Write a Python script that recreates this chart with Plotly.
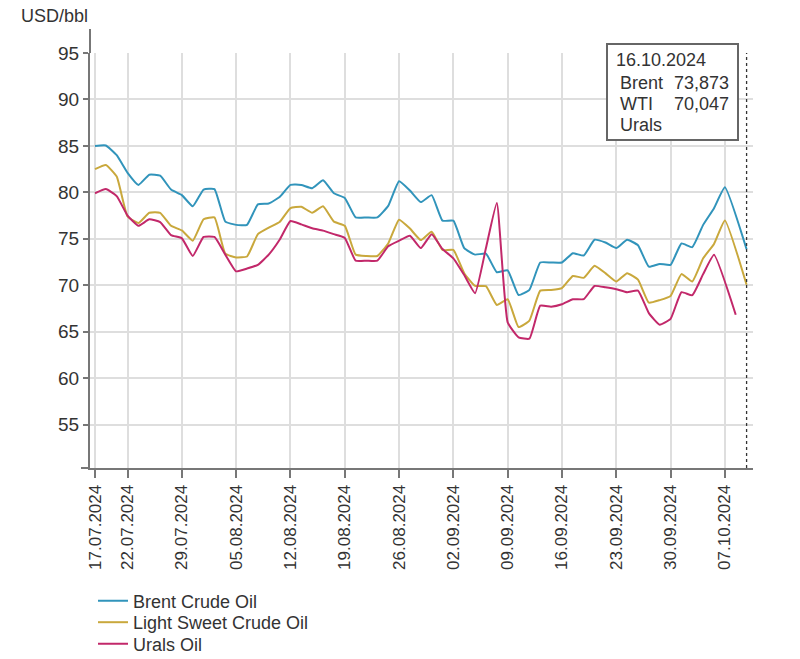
import plotly.graph_objects as go

# ---------------- data ----------------
dates = [
    "17.07.2024", "18.07.2024", "19.07.2024", "22.07.2024", "23.07.2024",
    "24.07.2024", "25.07.2024", "26.07.2024", "29.07.2024", "30.07.2024",
    "31.07.2024", "01.08.2024", "02.08.2024", "05.08.2024", "06.08.2024",
    "07.08.2024", "08.08.2024", "09.08.2024", "12.08.2024", "13.08.2024",
    "14.08.2024", "15.08.2024", "16.08.2024", "19.08.2024", "20.08.2024",
    "21.08.2024", "22.08.2024", "23.08.2024", "26.08.2024", "27.08.2024",
    "28.08.2024", "29.08.2024", "30.08.2024", "02.09.2024", "03.09.2024",
    "04.09.2024", "05.09.2024", "06.09.2024", "09.09.2024", "10.09.2024",
    "11.09.2024", "12.09.2024", "13.09.2024", "16.09.2024", "17.09.2024",
    "18.09.2024", "19.09.2024", "20.09.2024", "23.09.2024", "24.09.2024",
    "25.09.2024", "26.09.2024", "27.09.2024", "30.09.2024", "01.10.2024",
    "02.10.2024", "03.10.2024", "04.10.2024", "07.10.2024", "15.10.2024",
    "16.10.2024",
]

brent = [
    85.0, 85.05, 84.0, 82.1, 80.8, 81.9, 81.8, 80.3, 79.7, 78.5,
    80.3, 80.35, 76.85, 76.5, 76.5, 78.7, 78.8, 79.5, 80.8, 80.8,
    80.45, 81.3, 79.9, 79.4, 77.3, 77.3, 77.3, 78.55, 81.2, 80.2,
    78.95, 79.7, 76.95, 76.95, 74.0, 73.3, 73.4, 71.4, 71.6, 68.95,
    69.5, 72.45, 72.45, 72.45, 73.45, 73.2, 74.9, 74.6, 74.0, 74.9,
    74.3, 72.0, 72.3, 72.2, 74.5, 74.1, 76.5, 78.3, 80.55, None,
    73.873,
]

wti = [
    82.5, 82.95, 81.7, 77.4, 76.7, 77.8, 77.8, 76.4, 75.9, 74.8,
    77.1, 77.3, 73.4, 73.0, 73.1, 75.5, 76.2, 76.8, 78.3, 78.45,
    77.8, 78.5, 76.85, 76.4, 73.3, 73.15, 73.15, 74.5, 77.05, 76.1,
    74.86, 75.76, 73.8, 73.8, 71.3, 69.93, 69.9, 67.88, 68.5, 65.5,
    66.2, 69.42, 69.5, 69.7, 71.0, 70.8, 72.1, 71.3, 70.4, 71.3,
    70.6, 68.12, 68.4, 68.85, 71.2, 70.4, 72.9, 74.45, 76.98, None,
    70.047,
]

urals = [
    79.9, 80.35, 79.6, 77.5, 76.4, 77.1, 76.8, 75.4, 75.05, 73.15,
    75.2, 75.2, 73.3, 71.5, 71.8, 72.2, 73.3, 74.9, 76.92, 76.55,
    76.13, 75.88, 75.5, 75.1, 72.65, 72.65, 72.65, 74.2, 74.8, 75.33,
    74.0, 75.5, 73.9, 72.9, 71.1, 69.15, 74.0, 78.85, 66.0, 64.4,
    64.25, 67.8, 67.7, 67.95, 68.5, 68.5, 69.92, 69.78, 69.58, 69.25,
    69.42, 67.0, 65.75, 66.38, 69.25, 68.93, 71.2, 73.28, None, 66.83,
    None,
]

tick_labels = [
    "17.07.2024", "22.07.2024", "29.07.2024", "05.08.2024", "12.08.2024",
    "19.08.2024", "26.08.2024", "02.09.2024", "09.09.2024", "16.09.2024",
    "23.09.2024", "30.09.2024", "07.10.2024",
]
y_ticks = [55, 60, 65, 70, 75, 80, 85, 90, 95]

series_names = ["Brent Crude Oil", "Light Sweet Crude Oil", "Urals Oil"]
series_colors = ["#3194bb", "#c9a83c", "#c2286a"]

# ---------------- layout helpers ----------------
W, H = 800, 659
L, R, T, B = 90, 753, 53, 468
FONT = "Liberation Sans, Arial, sans-serif"
TXT = "#333333"


def px(x):
    return (x - L) / (R - L)


def py(y):
    return (B - y) / (B - T)


fig = go.Figure()
legend_ids = ["legend", "legend2", "legend3"]
for name, vals, col, lg in zip(series_names, [brent, wti, urals], series_colors, legend_ids):
    fig.add_trace(go.Scatter(
        x=dates, y=vals, name=name, mode="lines",
        line=dict(color=col, width=2, shape="spline", smoothing=0.4),
        connectgaps=True, legend=lg, hoverinfo="skip",
    ))

legend_common = dict(font=dict(family=FONT, size=18, color=TXT), bgcolor="rgba(0,0,0,0)",
                     xanchor="left", yanchor="top", borderwidth=0, itemwidth=30)
fig.update_layout(
    width=W, height=H,
    margin=dict(l=L, r=W - R, t=T, b=H - B, pad=0, autoexpand=False),
    paper_bgcolor="white", plot_bgcolor="white",
    font=dict(family=FONT, size=18, color=TXT),
    showlegend=True,
    legend=dict(x=px(93), y=py(582.5), **legend_common),
    legend2=dict(x=px(93), y=py(604), **legend_common),
    legend3=dict(x=px(93), y=py(625.5), **legend_common),
    xaxis=dict(
        type="category", range=[-0.46, 60.59], automargin=False,
        tickmode="array", tickvals=tick_labels, ticktext=tick_labels,
        tickangle=-90, ticks="outside", ticklen=8, tickcolor="#777", tickwidth=1.5,
        tickfont=dict(family=FONT, size=17, color=TXT),
        showgrid=True, gridcolor="#dedede", gridwidth=1.5,
        showline=True, linecolor="#777", linewidth=2, zeroline=False,
    ),
    yaxis=dict(
        range=[50.33, 95], tickmode="array", tickvals=y_ticks, automargin=False,
        ticks="outside", ticklen=5, tickcolor="#777", tickwidth=1.5,
        tickfont=dict(family=FONT, size=19, color=TXT),
        showgrid=True, gridcolor="#dedede", gridwidth=1.5,
        showline=True, linecolor="#777", linewidth=2, zeroline=False,
    ),
)

# y-axis line extension above the plot, x-axis line extension left
fig.add_shape(type="line", xref="paper", yref="paper", x0=0, x1=0, y0=1, y1=py(29),
              line=dict(color="#777", width=2), layer="above")
fig.add_shape(type="line", xref="paper", yref="paper", x0=px(81), x1=0, y0=0, y1=0,
              line=dict(color="#777", width=2), layer="above")

# hover spike line at last date
last_idx = len(dates) - 1
fig.add_shape(type="line", xref="x", yref="paper", x0=last_idx, x1=last_idx, y0=0, y1=1,
              line=dict(color="#333", width=1.3, dash="dot"), layer="above")

# tooltip box
fig.add_shape(type="rect", xref="paper", yref="paper",
              x0=px(607), x1=px(738), y0=py(140), y1=py(44),
              line=dict(color="#666", width=2), fillcolor="white", layer="above")


def fmt(v):
    return "" if v is None else f"{v:.3f}".replace(".", ",")


tip_font = dict(family=FONT, size=18, color=TXT)
fig.add_annotation(text=dates[-1], xref="paper", yref="paper", x=px(614), y=py(60),
                   xanchor="left", yanchor="middle", showarrow=False, font=tip_font)
for label, vals, yy in [("Brent", brent, 83), ("WTI", wti, 104), ("Urals", urals, 125)]:
    fig.add_annotation(text=label, xref="paper", yref="paper", x=px(618), y=py(yy),
                       xanchor="left", yanchor="middle", showarrow=False, font=tip_font)
    if vals[-1] is not None:
        fig.add_annotation(text=fmt(vals[-1]), xref="paper", yref="paper", x=px(731), y=py(yy),
                           xanchor="right", yanchor="middle", showarrow=False, font=tip_font)

# unit label
fig.add_annotation(text="USD/bbl", xref="paper", yref="paper", x=px(19), y=py(16),
                   xanchor="left", yanchor="middle", showarrow=False,
                   font=dict(family=FONT, size=18, color=TXT))

fig.write_html("out.html", config={"displayModeBar": False},
               post_script="document.body.style.margin='0';document.body.style.overflow='hidden';")
